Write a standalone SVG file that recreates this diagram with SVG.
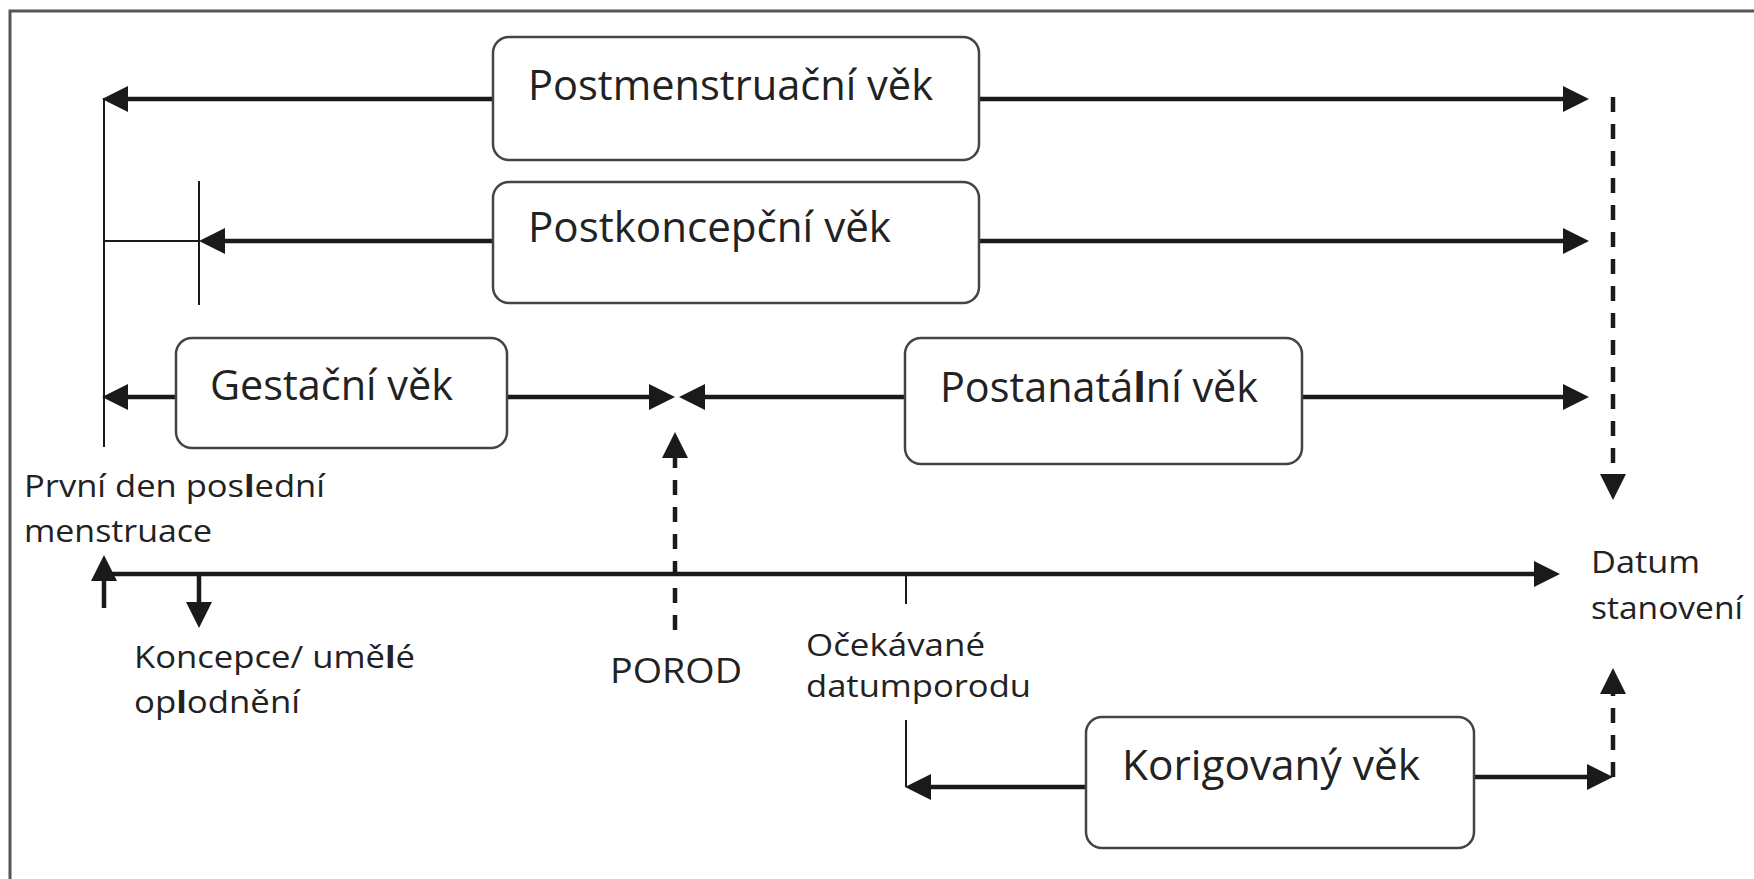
<svg xmlns="http://www.w3.org/2000/svg" width="1754" height="879" viewBox="0 0 1754 879">
<defs>
<marker id="ah" markerUnits="userSpaceOnUse" markerWidth="26" markerHeight="26" viewBox="0 0 26 26" refX="8" refY="13" orient="auto">
<path d="M0,0 L26,13 L0,26 z" fill="#1a1a1a"/>
</marker>
</defs>
<style>
.frame{fill:none;stroke:#555;stroke-width:3}
.box{fill:#fff;stroke:#444;stroke-width:2.5}
.thick{fill:none;stroke:#1a1a1a;stroke-width:4.5}
.thin{fill:none;stroke:#1a1a1a;stroke-width:2}
.dash{fill:none;stroke:#1a1a1a;stroke-width:4.5;stroke-dasharray:15 12}
.big{font-family:"Open Sans","Noto Sans",sans-serif;font-size:42px;fill:#222}
.lbl{font-family:"Open Sans","Noto Sans",sans-serif;font-size:31px;fill:#222}
.b{font-weight:bold}
</style>
<rect width="1754" height="879" fill="#fff"/>
<path class="frame" d="M10,879 L10,11 L1754,11"/>
<g id="connectors">
<!-- Postmenstruacni -->
<line class="thick" x1="493" y1="99" x2="120" y2="99" marker-end="url(#ah)"/>
<line class="thick" x1="979" y1="99" x2="1571" y2="99" marker-end="url(#ah)"/>
<line class="thin" x1="104" y1="98" x2="104" y2="447"/>
<!-- Postkoncepcni -->
<line class="thick" x1="493" y1="241" x2="217" y2="241" marker-end="url(#ah)"/>
<line class="thick" x1="979" y1="241" x2="1571" y2="241" marker-end="url(#ah)"/>
<line class="thin" x1="104" y1="241" x2="199" y2="241"/>
<line class="thin" x1="199" y1="181" x2="199" y2="305"/>
<!-- Gestacni / Postanatalni -->
<line class="thick" x1="176" y1="397" x2="120" y2="397" marker-end="url(#ah)"/>
<line class="thick" x1="507" y1="397" x2="657" y2="397" marker-end="url(#ah)"/>
<line class="thick" x1="905" y1="397" x2="697" y2="397" marker-end="url(#ah)"/>
<line class="thick" x1="1302" y1="397" x2="1571" y2="397" marker-end="url(#ah)"/>
<!-- right dashed down -->
<line class="dash" x1="1613" y1="97" x2="1613" y2="482" marker-end="url(#ah)"/>
<!-- timeline -->
<line class="thick" x1="104" y1="574" x2="1542" y2="574" marker-end="url(#ah)"/>
<line class="thick" x1="104" y1="608" x2="104" y2="573" marker-end="url(#ah)"/>
<line class="thick" x1="199" y1="574" x2="199" y2="610" marker-end="url(#ah)"/>
<!-- POROD dashed up -->
<line class="dash" x1="675" y1="630" x2="675" y2="450" marker-end="url(#ah)"/>
<!-- expected date ticks -->
<line class="thin" x1="906" y1="574" x2="906" y2="604"/>
<line class="thin" x1="906" y1="720" x2="906" y2="787"/>
<!-- Korigovany -->
<line class="thick" x1="1086" y1="787" x2="923" y2="787" marker-end="url(#ah)"/>
<line class="thick" x1="1474" y1="777" x2="1595" y2="777" marker-end="url(#ah)"/>
<line class="dash" x1="1613" y1="777" x2="1613" y2="686" marker-end="url(#ah)"/>
</g>
<g id="node-postmenstruacni">
<rect class="box" x="493" y="37" width="486" height="123" rx="16"/>
<text class="big" x="528" y="100" textLength="405" lengthAdjust="spacingAndGlyphs">Postmenstruační věk</text>
</g>
<g id="node-postkoncepcni">
<rect class="box" x="493" y="182" width="486" height="121" rx="16"/>
<text class="big" x="528" y="242" textLength="363" lengthAdjust="spacingAndGlyphs">Postkoncepční věk</text>
</g>
<g id="node-gestacni">
<rect class="box" x="176" y="338" width="331" height="110" rx="16"/>
<text class="big" x="210" y="400" textLength="243" lengthAdjust="spacingAndGlyphs">Gestační věk</text>
</g>
<g id="node-postanatalni">
<rect class="box" x="905" y="338" width="397" height="126" rx="16"/>
<text class="big" x="940" y="402" textLength="318" lengthAdjust="spacingAndGlyphs">Postanatá<tspan class="b">l</tspan>ní věk</text>
</g>
<g id="node-korigovany">
<rect class="box" x="1086" y="717" width="388" height="131" rx="16"/>
<text class="big" x="1122" y="780" textLength="298" lengthAdjust="spacingAndGlyphs">Korigovaný věk</text>
</g>
<g id="label-prvni-den">
<text class="lbl" x="24" y="497" textLength="301" lengthAdjust="spacingAndGlyphs">První den pos<tspan class="b">l</tspan>ední</text>
<text class="lbl" x="24" y="542" textLength="188" lengthAdjust="spacingAndGlyphs">menstruace</text>
</g>
<g id="label-koncepce">
<text class="lbl" x="134" y="668" textLength="281" lengthAdjust="spacingAndGlyphs">Koncepce/ umě<tspan class="b">l</tspan>é</text>
<text class="lbl" x="134" y="713" textLength="166" lengthAdjust="spacingAndGlyphs">op<tspan class="b">l</tspan>odnění</text>
</g>
<g id="label-porod">
<text class="lbl" x="610" y="683" style="font-size:35px" textLength="132" lengthAdjust="spacingAndGlyphs">POROD</text>
</g>
<g id="label-ocekavane">
<text class="lbl" x="806" y="656" textLength="179" lengthAdjust="spacingAndGlyphs">Očekávané</text>
<text class="lbl" x="806" y="697" textLength="225" lengthAdjust="spacingAndGlyphs">datumporodu</text>
</g>
<g id="label-datum">
<text class="lbl" x="1591" y="573" textLength="109" lengthAdjust="spacingAndGlyphs">Datum</text>
<text class="lbl" x="1591" y="619" textLength="152" lengthAdjust="spacingAndGlyphs">stanovení</text>
</g>
</svg>
